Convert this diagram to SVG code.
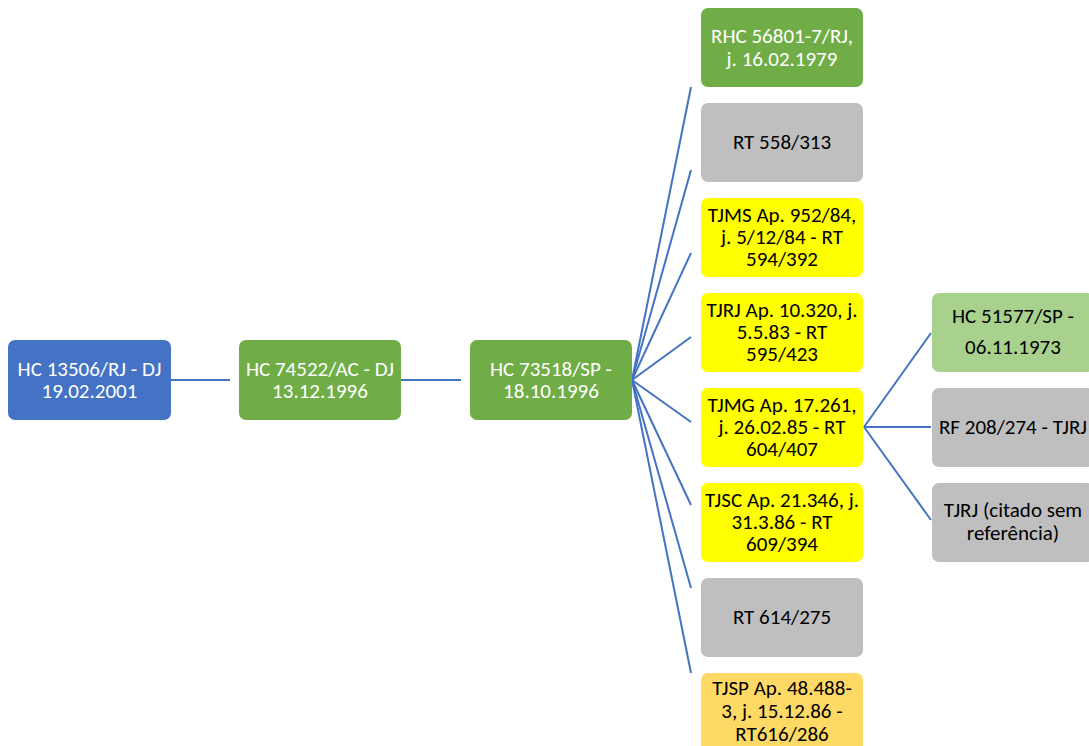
<svg xmlns="http://www.w3.org/2000/svg" width="1089" height="746" viewBox="0 0 1089 746">
  <style>
    .box { stroke: none; }
    .blue { fill: #4472C4; }
    .green { fill: #70AD47; }
    .lgreen { fill: #A9D18E; }
    .gray { fill: #BFBFBF; }
    .yellow { fill: #FFFF00; }
    .gold { fill: #FFD966; }
    text { font-family: Carlito, Lato, "Liberation Sans", sans-serif; font-size: 21px; text-anchor: middle; }
    .w { fill: #FFFFFF; }
    .k { fill: #000000; }
    .link { stroke: #4472C4; stroke-width: 2; fill: none; }
  </style>

  <rect width="1089" height="746" fill="#FFFFFF"/>

  <!-- connectors -->
  <g id="connectors" class="link">
    <line x1="171" y1="380" x2="230" y2="380"/>
    <line x1="401" y1="380" x2="461" y2="380"/>
    <line x1="632" y1="380" x2="691" y2="87"/>
    <line x1="632" y1="380" x2="691" y2="170"/>
    <line x1="632" y1="380" x2="691" y2="253"/>
    <line x1="632" y1="380" x2="691" y2="337"/>
    <line x1="632" y1="380" x2="691" y2="422"/>
    <line x1="632" y1="380" x2="691" y2="505"/>
    <line x1="632" y1="380" x2="691" y2="588"/>
    <line x1="632" y1="380" x2="691" y2="673"/>
    <line x1="864" y1="427" x2="931" y2="333"/>
    <line x1="864" y1="427" x2="931" y2="427"/>
    <line x1="864" y1="427" x2="931" y2="520"/>
  </g>

  <!-- root chain -->
  <g id="n-hc13506">
    <rect class="box blue" x="8" y="340" width="163" height="80" rx="7"/>
    <text class="w" x="89.5" y="376">HC 13506/RJ - DJ</text>
    <text class="w" x="89.5" y="398">19.02.2001</text>
  </g>
  <g id="n-hc74522">
    <rect class="box green" x="239" y="340" width="162" height="80" rx="7"/>
    <text class="w" x="320" y="376">HC 74522/AC - DJ</text>
    <text class="w" x="320" y="398">13.12.1996</text>
  </g>
  <g id="n-hc73518">
    <rect class="box green" x="470" y="340" width="162" height="80" rx="7"/>
    <text class="w" x="551" y="376">HC 73518/SP -</text>
    <text class="w" x="551" y="398">18.10.1996</text>
  </g>

  <!-- cited precedents -->
  <g id="n-rhc56801">
    <rect class="box green" x="701" y="8" width="162" height="79" rx="7"/>
    <text class="w" x="782" y="43">RHC 56801-7/RJ,</text>
    <text class="w" x="782" y="66">j. 16.02.1979</text>
  </g>
  <g id="n-rt558">
    <rect class="box gray" x="701" y="103" width="162" height="79" rx="7"/>
    <text class="k" x="782" y="149">RT 558/313</text>
  </g>
  <g id="n-tjms">
    <rect class="box yellow" x="701" y="198" width="162" height="79" rx="7"/>
    <text class="k" x="782" y="222">TJMS Ap. 952/84,</text>
    <text class="k" x="782" y="244">j. 5/12/84 - RT</text>
    <text class="k" x="782" y="266">594/392</text>
  </g>
  <g id="n-tjrj">
    <rect class="box yellow" x="701" y="293" width="162" height="79" rx="7"/>
    <text class="k" x="782" y="317">TJRJ Ap. 10.320, j.</text>
    <text class="k" x="782" y="339">5.5.83 - RT</text>
    <text class="k" x="782" y="361">595/423</text>
  </g>
  <g id="n-tjmg">
    <rect class="box yellow" x="701" y="388" width="162" height="79" rx="7"/>
    <text class="k" x="782" y="412">TJMG Ap. 17.261,</text>
    <text class="k" x="782" y="434">j. 26.02.85 - RT</text>
    <text class="k" x="782" y="456">604/407</text>
  </g>
  <g id="n-tjsc">
    <rect class="box yellow" x="701" y="483" width="162" height="79" rx="7"/>
    <text class="k" x="782" y="507">TJSC Ap. 21.346, j.</text>
    <text class="k" x="782" y="529">31.3.86 - RT</text>
    <text class="k" x="782" y="551">609/394</text>
  </g>
  <g id="n-rt614">
    <rect class="box gray" x="701" y="578" width="162" height="79" rx="7"/>
    <text class="k" x="782" y="624">RT 614/275</text>
  </g>
  <g id="n-tjsp">
    <rect class="box gold" x="701" y="673" width="162" height="80" rx="7"/>
    <text class="k" x="782" y="695">TJSP Ap. 48.488-</text>
    <text class="k" x="782" y="718">3, j. 15.12.86 -</text>
    <text class="k" x="782" y="741">RT616/286</text>
  </g>

  <!-- sources behind TJMG -->
  <g id="n-hc51577">
    <rect class="box lgreen" x="932" y="293" width="162" height="79" rx="7"/>
    <text class="k" x="1013" y="323">HC 51577/SP -</text>
    <text class="k" x="1013" y="354">06.11.1973</text>
  </g>
  <g id="n-rf208">
    <rect class="box gray" x="932" y="388" width="162" height="79" rx="7"/>
    <text class="k" x="1013" y="434">RF 208/274 - TJRJ</text>
  </g>
  <g id="n-tjrj-sem-ref">
    <rect class="box gray" x="932" y="483" width="162" height="79" rx="7"/>
    <text class="k" x="1013" y="517">TJRJ (citado sem</text>
    <text class="k" x="1013" y="540">referência)</text>
  </g>
</svg>
